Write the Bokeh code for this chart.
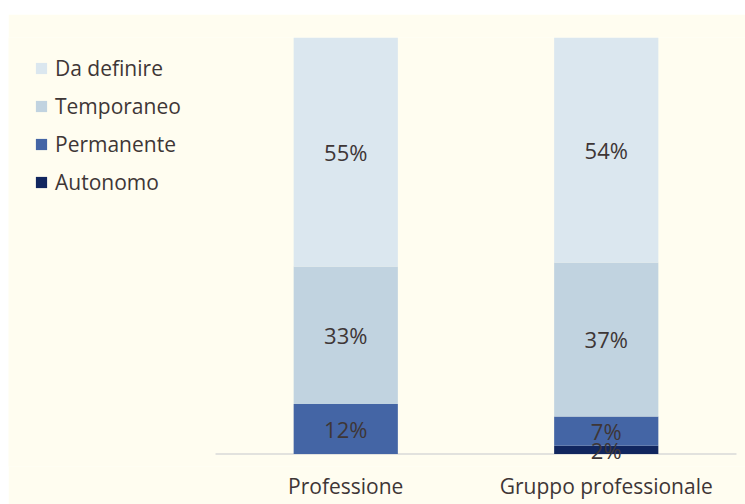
from bokeh.plotting import figure
from bokeh.models import Range1d, Legend, LegendItem, ColumnDataSource, Spacer, FixedTicker
from bokeh.layouts import column, row
from bokeh.core.properties import value
from bokeh.embed import file_html
from bokeh.resources import INLINE

categories = ["Professione", "Gruppo professionale"]
series = ["Autonomo", "Permanente", "Temporaneo", "Da definire"]
autonomo = [0, 2]
permanente = [12, 7]
temporaneo = [33, 37]
da_definire = [55, 54]
colors = ["#11265F", "#4465A5", "#C1D3E0", "#DBE7EF"]

BG = "#FFFDF0"
TXT = "#3E3636"
FONT = "Open Sans"
FS = "21px"

W, H = 737, 490
pitch = 260.5          # px per category
left_gap = 207         # px from frame left to first category slot
x_start = -left_gap / pitch
x_end = x_start + W / pitch
y_start = -3           # room below the baseline so low labels are not clipped

xs = [i + 0.5 for i in range(len(categories))]
data = {"x": xs, "Autonomo": autonomo, "Permanente": permanente,
        "Temporaneo": temporaneo, "Da definire": da_definire}
src = ColumnDataSource(data)

p = figure(x_range=Range1d(x_start, x_end), y_range=Range1d(y_start, 100), width=W, height=H,
           output_backend="svg", toolbar_location=None,
           min_border_left=0, min_border_right=0, min_border_top=23, min_border_bottom=38)
p.background_fill_color = BG
p.border_fill_color = BG
p.outline_line_color = None
p.xgrid.visible = False
p.ygrid.visible = False
p.yaxis.visible = False

# baseline (category axis line) spanning the category slots
p.segment(x0=[0], y0=[0], x1=[len(categories)], y1=[0], line_color="#D9D9D9", line_width=1.5)

rends = p.vbar_stack(series, x="x", width=0.4, source=src, color=colors, line_color=None)

# labels
lx, ly, lt = [], [], []
vals = [autonomo, permanente, temporaneo, da_definire]
for i, c in enumerate(xs):
    base = 0
    for v in vals:
        if v[i] > 0:
            lx.append(c)
            ly.append(base + v[i] / 2)
            lt.append(f"{v[i]}%")
        base += v[i]
lsrc = ColumnDataSource(dict(x=lx, y=ly, t=lt))
p.text(x="x", y="y", text="t", source=lsrc, text_font=value(FONT), text_font_size="22px",
       text_color=TXT, text_align="center", text_baseline="middle")

ax = p.xaxis[0]
ax.ticker = FixedTicker(ticks=xs)
ax.major_label_overrides = {x: c for x, c in zip(xs, categories)}
ax.axis_line_color = None
ax.major_tick_line_color = None
ax.minor_tick_line_color = None
ax.major_tick_out = 0
ax.major_tick_in = 0
ax.major_label_standoff = 5
ax.major_label_text_font = FONT
ax.major_label_text_font_size = FS
ax.major_label_text_color = TXT

items = [LegendItem(label=s, renderers=[r]) for s, r in zip(series, rends)][::-1]
leg = Legend(items=items, location=(26, 270), orientation="vertical",
             glyph_width=14, glyph_height=14, label_standoff=7, spacing=10,
             padding=0, margin=0, border_line_color=None, background_fill_alpha=0,
             label_text_font=FONT, label_text_font_size=FS, label_text_color=TXT)
p.add_layout(leg)

layout = column(Spacer(height=14, width=8 + W), row(Spacer(width=8, height=H), p))
open("out.html", "w").write(file_html(layout, INLINE))
